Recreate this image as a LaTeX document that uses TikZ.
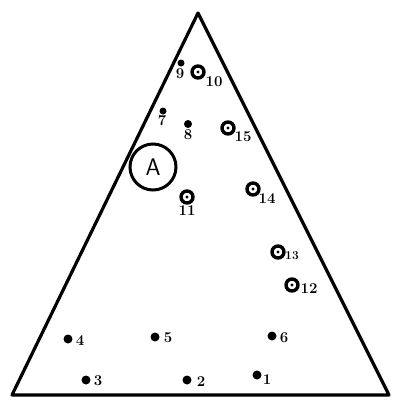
\documentclass[tikz,border=0pt]{standalone}
\begin{document}
\begin{tikzpicture}[x=1pt,y=-1pt,
  edge/.style={line width=3.2pt,line join=round},
  dotpt/.style={circle,fill=black,inner sep=0pt,minimum size=9pt},
  ringpt/.style={circle,draw=black,line width=3.4pt,fill=white,inner sep=0pt,minimum size=12pt},
  ctr/.style={circle,fill=black,inner sep=0pt,minimum size=3.2pt},
  lab/.style={font=\bfseries\fontsize{15}{17}\selectfont,inner sep=0pt}]
\useasboundingbox[fill=white] (0,0) rectangle (402,408);
\coordinate (top) at (198,13);
\coordinate (bl) at (12,395);
\coordinate (br) at (389,395);
\draw[edge] (top) -- (br) -- (bl) -- cycle;
% circle A
\node[circle,draw,line width=3pt,minimum size=46pt,inner sep=0pt,font=\sffamily\fontsize{24}{26}\selectfont] (A) at (153,167) {A};
% rings
\node[ringpt] (p10) at (198,72) {};
\node[ctr] (c10) at (p10) {};
\node[lab] (l10) at (214,82) {10};
\node[ringpt] (p15) at (228,128) {};
\node[ctr] (c15) at (p15) {};
\node[lab] (l15) at (243,137) {15};
\node[ringpt] (p11) at (187,197) {};
\node[ctr] (c11) at (p11) {};
\node[lab] (l11) at (187,211) {11};
\node[ringpt] (p14) at (253,189) {};
\node[ctr] (c14) at (p14) {};
\node[lab] (l14) at (267,199) {14};
\node[ringpt] (p13) at (278,252) {};
\node[ctr] (c13) at (p13) {};
\node[lab,font=\bfseries\fontsize{12}{14}\selectfont] (l13) at (292,256) {13};
\node[ringpt] (p12) at (292,285) {};
\node[ctr] (c12) at (p12) {};
\node[lab] (l12) at (309,289) {12};
% dots
\node[dotpt,minimum size=7pt] (p9) at (181,63) {};
\node[lab] (l9) at (180,74) {9};
\node[dotpt,minimum size=7pt] (p7) at (163,111) {};
\node[lab] (l7) at (162,121) {7};
\node[dotpt,minimum size=8pt] (p8) at (188,124) {};
\node[lab] (l8) at (188,135) {8};
\node[dotpt] (p4) at (68,339) {};
\node[lab] (l4) at (80,341) {4};
\node[dotpt] (p5) at (155,337) {};
\node[lab] (l5) at (168,338) {5};
\node[dotpt] (p6) at (272,336) {};
\node[lab] (l6) at (284,338) {6};
\node[dotpt] (p3) at (86,380) {};
\node[lab] (l3) at (98,381) {3};
\node[dotpt] (p2) at (187,380) {};
\node[lab] (l2) at (201,382) {2};
\node[dotpt] (p1) at (257,375) {};
\node[lab] (l1) at (267,380) {1};
\end{tikzpicture}
\end{document}
